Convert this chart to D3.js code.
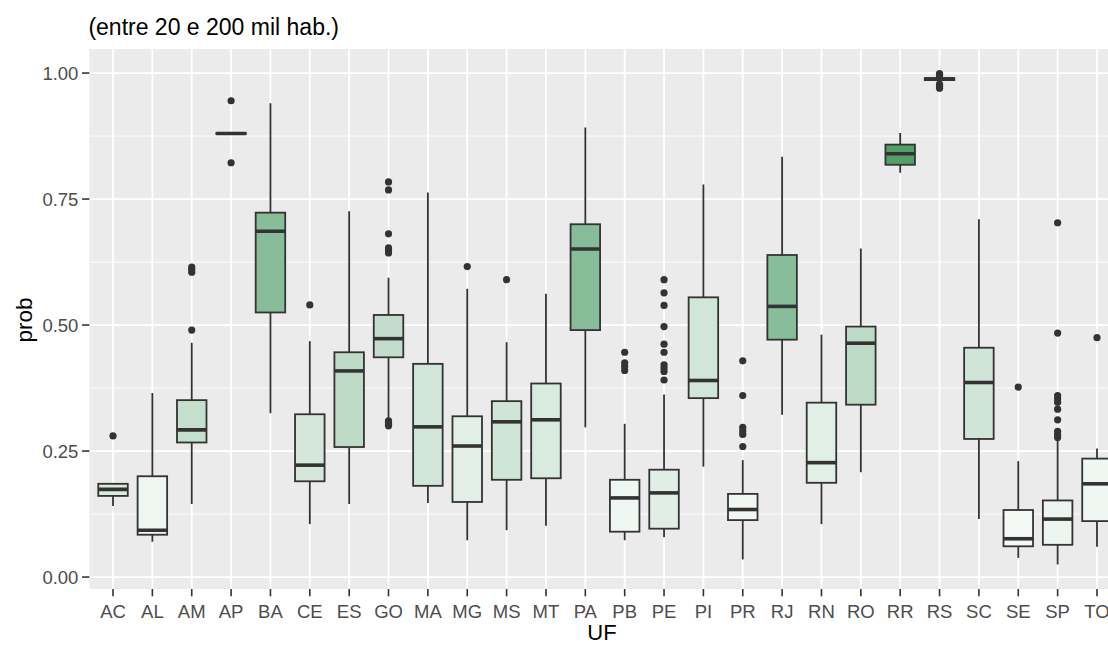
<!DOCTYPE html>
<html>
<head>
<meta charset="utf-8">
<script src="https://cdn.jsdelivr.net/npm/d3@7"></script>
<style>
  html, body { margin: 0; padding: 0; background: #ffffff; }
  svg { display: block; }
  text { font-family: "Liberation Sans", Arial, sans-serif; }
</style>
</head>
<body>
<svg id="chart" width="1108" height="645"></svg>
<script>
// Unidades da federação (eixo x)
const ufs = ["AC","AL","AM","AP","BA","CE","ES","GO","MA","MG","MS","MT","PA",
             "PB","PE","PI","PR","RJ","RN","RO","RR","RS","SC","SE","SP","TO"];

// Estatísticas de cada caixa
const bigodeInf = [0.141,0.070,0.145,0.879,0.325,0.105,0.145,0.315,0.147,0.073,0.093,0.102,0.297,
                   0.073,0.079,0.219,0.035,0.322,0.105,0.208,0.802,0.982,0.115,0.038,0.025,0.060];
const q1        = [0.161,0.084,0.267,0.879,0.525,0.190,0.258,0.436,0.181,0.149,0.193,0.196,0.490,
                   0.090,0.096,0.355,0.113,0.471,0.187,0.342,0.818,0.986,0.274,0.061,0.064,0.111];
const mediana   = [0.174,0.093,0.292,0.880,0.686,0.222,0.409,0.473,0.298,0.260,0.308,0.312,0.651,
                   0.157,0.167,0.390,0.134,0.537,0.227,0.464,0.840,0.988,0.386,0.076,0.115,0.185];
const q3        = [0.185,0.200,0.351,0.881,0.723,0.323,0.446,0.520,0.423,0.319,0.349,0.384,0.700,
                   0.193,0.213,0.555,0.165,0.639,0.346,0.497,0.858,0.990,0.455,0.133,0.152,0.235];
const bigodeSup = [0.185,0.365,0.465,0.881,0.940,0.468,0.726,0.594,0.763,0.572,0.466,0.562,0.892,
                   0.304,0.362,0.779,0.232,0.834,0.481,0.652,0.881,0.993,0.710,0.230,0.270,0.255];

// Valores atípicos por UF
const atipicos = [
  [0.280],
  [],
  [0.490,0.605,0.610,0.615],
  [0.822,0.945],
  [],
  [0.540],
  [],
  [0.300,0.303,0.307,0.310,0.643,0.648,0.653,0.681,0.768,0.784],
  [],
  [0.616],
  [0.590],
  [],
  [],
  [0.410,0.418,0.425,0.446],
  [0.391,0.408,0.415,0.421,0.446,0.462,0.497,0.539,0.564,0.590],
  [],
  [0.259,0.283,0.290,0.297,0.360,0.429],
  [],
  [],
  [],
  [],
  [0.970,0.974,0.978,0.995,0.997,0.999],
  [],
  [0.377],
  [0.277,0.282,0.289,0.312,0.333,0.347,0.354,0.360,0.484,0.703],
  [0.475]
];

// Variável de preenchimento (0 a 1)
const indice = [0.15,0.045,0.25,0.85,0.55,0.175,0.285,0.265,0.19,0.105,0.20,0.15,0.56,
                0.04,0.115,0.19,0.03,0.55,0.11,0.295,0.82,1.00,0.195,0.015,0.055,0.04];

const yTicks = [0, 0.25, 0.5, 0.75, 1];
const yMinor = [0.125, 0.375, 0.625, 0.875];

const subtitulo = "(entre 20 e 200 mil hab.)";
const tituloX = "UF";
const tituloY = "prob";

// Layout
const W = 1108, H = 645;
const panel = { left: 89.4, right: 1120.6, top: 49, bottom: 589 };

const svg = d3.select("#chart");

// Escalas
const x = d3.scalePoint().domain(ufs).range([panel.left, panel.right]).padding(0.6);
const allVals = bigodeInf.concat(bigodeSup, atipicos.flat());
const lo = d3.min(allVals), hi = d3.max(allVals), ex = (hi - lo) * 0.05;
const y = d3.scaleLinear().domain([lo - ex, hi + ex]).range([panel.bottom, panel.top]);
const fill = d3.scaleLinear().domain([0, 1]).range(["#f7fbf9", "#2e8b4a"]).interpolate(d3.interpolateRgb);

// Painel
svg.append("defs").append("clipPath").attr("id", "pclip")
  .append("rect")
  .attr("x", panel.left).attr("y", panel.top)
  .attr("width", panel.right - panel.left).attr("height", panel.bottom - panel.top);

svg.append("rect")
  .attr("x", panel.left).attr("y", panel.top)
  .attr("width", panel.right - panel.left).attr("height", panel.bottom - panel.top)
  .attr("fill", "#ebebeb");

const grid = svg.append("g").attr("clip-path", "url(#pclip)");
grid.selectAll("line.minor").data(yMinor).join("line")
  .attr("class", "minor")
  .attr("x1", panel.left).attr("x2", panel.right)
  .attr("y1", d => y(d)).attr("y2", d => y(d))
  .attr("stroke", "#ffffff").attr("stroke-width", 0.9);
grid.selectAll("line.majorY").data(yTicks).join("line")
  .attr("class", "majorY")
  .attr("x1", panel.left).attr("x2", panel.right)
  .attr("y1", d => y(d)).attr("y2", d => y(d))
  .attr("stroke", "#ffffff").attr("stroke-width", 1.8);
grid.selectAll("line.majorX").data(ufs).join("line")
  .attr("class", "majorX")
  .attr("x1", d => x(d)).attr("x2", d => x(d))
  .attr("y1", panel.top).attr("y2", panel.bottom)
  .attr("stroke", "#ffffff").attr("stroke-width", 1.8);

// Caixas
const boxW = x.step() * 0.75;
const stroke = "#333333";
const dados = ufs.map((uf, i) => ({
  uf, lo: bigodeInf[i], q1: q1[i], med: mediana[i], q3: q3[i], hi: bigodeSup[i],
  out: atipicos[i], f: indice[i]
}));

const marks = svg.append("g").attr("clip-path", "url(#pclip)");
const g = marks.selectAll("g.box").data(dados).join("g").attr("class", "box");

g.append("line")
  .attr("x1", d => x(d.uf)).attr("x2", d => x(d.uf))
  .attr("y1", d => y(d.q3)).attr("y2", d => y(d.hi))
  .attr("stroke", stroke).attr("stroke-width", 1.8);
g.append("line")
  .attr("x1", d => x(d.uf)).attr("x2", d => x(d.uf))
  .attr("y1", d => y(d.q1)).attr("y2", d => y(d.lo))
  .attr("stroke", stroke).attr("stroke-width", 1.8);
g.append("rect")
  .attr("x", d => x(d.uf) - boxW / 2)
  .attr("width", boxW)
  .attr("y", d => y(d.q3))
  .attr("height", d => Math.max(0, y(d.q1) - y(d.q3)))
  .attr("fill", d => fill(d.f))
  .attr("stroke", stroke).attr("stroke-width", 1.8);
g.append("line")
  .attr("x1", d => x(d.uf) - boxW / 2).attr("x2", d => x(d.uf) + boxW / 2)
  .attr("y1", d => y(d.med)).attr("y2", d => y(d.med))
  .attr("stroke", stroke).attr("stroke-width", 3.6);
g.selectAll("circle").data(d => d.out.map(v => ({ uf: d.uf, v }))).join("circle")
  .attr("cx", d => x(d.uf)).attr("cy", d => y(d.v))
  .attr("r", 3.6).attr("fill", stroke);

// Eixo y
const tickCol = "#333333", labCol = "#4d4d4d";
const yAxis = svg.append("g");
yAxis.selectAll("line").data(yTicks).join("line")
  .attr("x1", panel.left - 7.3).attr("x2", panel.left)
  .attr("y1", d => y(d)).attr("y2", d => y(d))
  .attr("stroke", tickCol).attr("stroke-width", 1.6);
yAxis.selectAll("text").data(yTicks).join("text")
  .attr("x", panel.left - 11).attr("y", d => y(d))
  .attr("dy", "0.35em").attr("text-anchor", "end")
  .attr("font-size", 18.5).attr("fill", labCol)
  .text(d => d3.format(".2f")(d));

// Eixo x
const xAxis = svg.append("g");
xAxis.selectAll("line").data(ufs).join("line")
  .attr("x1", d => x(d)).attr("x2", d => x(d))
  .attr("y1", panel.bottom).attr("y2", panel.bottom + 7.3)
  .attr("stroke", tickCol).attr("stroke-width", 1.6);
xAxis.selectAll("text").data(ufs).join("text")
  .attr("x", d => x(d)).attr("y", panel.bottom + 28.5)
  .attr("text-anchor", "middle")
  .attr("font-size", 18.5).attr("fill", labCol)
  .text(d => d);

// Títulos
svg.append("text")
  .attr("x", (panel.left + panel.right) / 2 - 3).attr("y", 640)
  .attr("text-anchor", "middle").attr("font-size", 22).attr("fill", "#000")
  .text(tituloX);
svg.append("text")
  .attr("transform", `translate(32, ${(panel.top + panel.bottom) / 2 + 1}) rotate(-90)`)
  .attr("text-anchor", "middle").attr("font-size", 22.5).attr("fill", "#000")
  .text(tituloY);
svg.append("text")
  .attr("x", panel.left - 1).attr("y", 34.5)
  .attr("font-size", 23).attr("fill", "#000")
  .text(subtitulo);
</script>
</body>
</html>
